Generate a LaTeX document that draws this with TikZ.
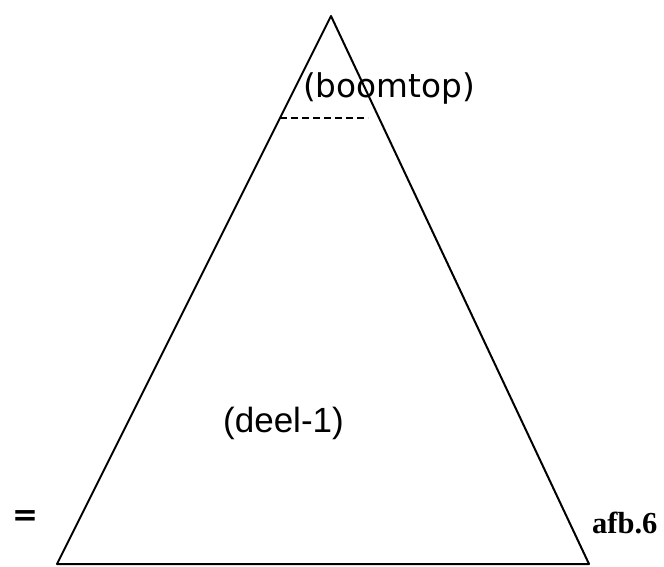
\documentclass[tikz,border=0pt]{standalone}
\usepackage{fontspec}
\setmainfont{Liberation Serif}
\newfontfamily\dejavu{DejaVu Sans}
\newfontfamily\libsans{Liberation Sans}
\tikzset{
  edge/.style={line width=2pt, line join=round, line cap=round},
  lbl/.style={inner sep=0pt, anchor=base},
}
\begin{document}
\begin{tikzpicture}[x=1pt,y=-1pt]
\useasboundingbox (0,0) rectangle (664,567);
\coordinate (A) at (331,16);
\coordinate (BL) at (57,564);
\coordinate (BR) at (589,564);
\coordinate (dl) at (280,118);
\coordinate (dr) at (368,118);
\draw[edge] (A) -- (BL) -- (BR) -- cycle;
\draw[line width=1.6pt, dash pattern=on 7pt off 4pt] (dl) -- (dr);
\node[lbl] (boomtop) at (389,98) {\dejavu\fontsize{32.7}{38}\selectfont (boomtop)};
\node[lbl] (deel) at (283.5,432) {\libsans\fontsize{35}{40}\selectfont (deel-1)};
\node[lbl, anchor=base west] (afb) at (592,533) {\fontsize{30.5}{36}\selectfont\bfseries afb.6};
\node[inner sep=0pt] (eq) at (25,518) {\dejavu\bfseries\fontsize{31}{36}\selectfont =};
\end{tikzpicture}
\end{document}
